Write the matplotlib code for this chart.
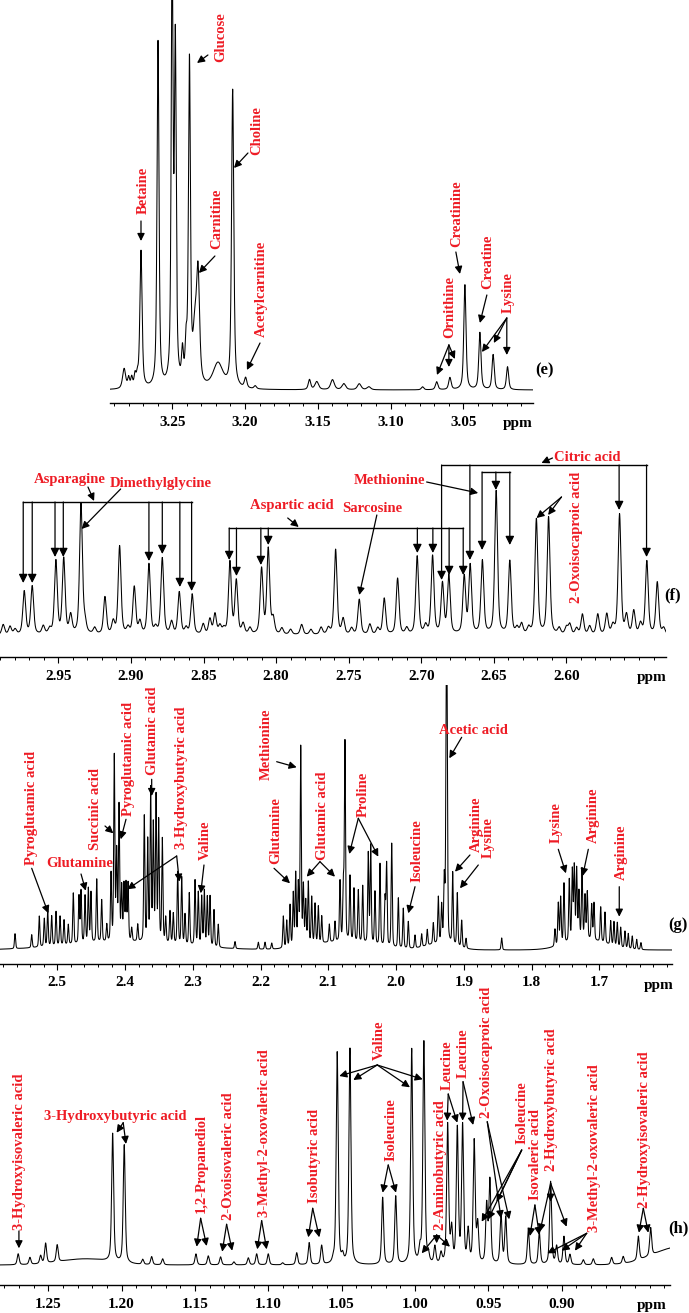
import numpy as np
import matplotlib
matplotlib.use("Agg")
import matplotlib.pyplot as plt
from matplotlib.ticker import FixedLocator, MultipleLocator

plt.rcParams['font.family'] = ['Liberation Serif', 'DejaVu Serif']
plt.rcParams['font.weight'] = 'bold'

RED = '#ee1c25'

# ---------------- panel (e) : 3.29 - 3.00 ppm ----------------
e_ppm = [3.2831, 3.2800, 3.2779, 3.2756, 3.2740, 3.2715, 3.2598, 3.2501, 3.2479,
         3.2430, 3.2405, 3.2382, 3.2345, 3.2323, 3.2186, 3.2085, 3.1996, 3.1930,
         3.1557, 3.1507, 3.1399, 3.1321, 3.1215, 3.1149, 3.0780, 3.0683, 3.0592,
         3.0489, 3.0386, 3.0295, 3.0196]
e_height = [20, 10, 10, 12, 10, 137, 346, 430, 334,
            30, 35, 323, 50, 108, 25, 298, 10, 3,
            10, 8, 10, 6, 6, 3, 3, 8, 12,
            105, 57, 35, 23]
e_width = [0.0025, 0.0015, 0.0015, 0.0015, 0.0015, 0.0018, 0.0016, 0.0015, 0.0015,
           0.0015, 0.0015, 0.0016, 0.003, 0.0025, 0.008, 0.0018, 0.002, 0.002,
           0.002, 0.003, 0.003, 0.003, 0.003, 0.003, 0.002, 0.002, 0.002,
           0.0018, 0.0018, 0.0018, 0.0018]
e_ticks = [3.25, 3.20, 3.15, 3.10, 3.05]
e_ticklabels = ['3.25', '3.20', '3.15', '3.10', '3.05']

e_names = ['Betaine', 'Glucose', 'Choline', 'Carnitine', 'Acetylcarnitine',
           'Creatinine', 'Ornithine', 'Creatine', 'Lysine']
e_text_xy = [(3.2701, 200), (3.2165, 353), (3.1918, 259), (3.2193, 171), (3.1890, 101),
             (3.0544, 176), (3.0592, 83), (3.0331, 128), (3.0194, 97)]
e_text_rot = [90, 90, 90, 90, 90, 90, 90, 90, 90]
e_arrow_from = [(3.2715, 169), (3.2255, 335), (3.1980, 237), (3.2207, 134), (3.1897, 47),
                (3.0551, 138), (3.0599, 45), (3.0338, 95), (3.0201, 72)]
e_arrow_to = [[(3.2715, 149)], [(3.2330, 327)], [(3.2076, 222)], [(3.2317, 117)],
              [(3.1987, 20)], [(3.0523, 116)],
              [(3.0681, 15), (3.0599, 23), (3.0558, 31)], [(3.0386, 67)],
              [(3.0372, 38), (3.0290, 47), (3.0201, 35)]]

# ---------------- panel (f) : 2.99 - 2.53 ppm ----------------
f_ppm = [2.9880, 2.9833, 2.9798, 2.9735, 2.9680, 2.9604, 2.9560, 2.9517, 2.9463, 2.9415,
         2.9344, 2.9317, 2.9250, 2.9179, 2.9122, 2.9078, 2.9020, 2.8977, 2.8938, 2.8876,
         2.8830, 2.8784, 2.8720, 2.8667, 2.8620, 2.8578, 2.8502, 2.8456, 2.8421, 2.8387,
         2.8360, 2.8318, 2.8274, 2.8227, 2.8180, 2.8100, 2.8054, 2.8020, 2.7960, 2.7900,
         2.7824, 2.7760, 2.7690, 2.7640, 2.7590, 2.7538, 2.7480, 2.7427, 2.7354, 2.7300,
         2.7255, 2.7163, 2.7100, 2.7028, 2.6970, 2.6922, 2.6854, 2.6810, 2.6704, 2.6663,
         2.6579, 2.6484, 2.6390, 2.6340, 2.6309, 2.6260, 2.6207, 2.6123, 2.6050, 2.6000,
         2.5977, 2.5930, 2.5890, 2.5840, 2.5784, 2.5722, 2.5680, 2.5634, 2.5586, 2.5536,
         2.5490, 2.5446, 2.5374, 2.5330]
f_height = [10, 8, 5, 43, 48, 8, 5, 73, 75, 18,
            130, 10, 6, 37, 12, 88, 6, 47, 12, 70,
            6, 76, 12, 42, 6, 40, 10, 15, 20, 8,
            5, 72, 53, 10, 6, 65, 85, 15, 6, 5,
            10, 5, 7, 6, 85, 15, 6, 35, 10, 6,
            36, 56, 6, 78, 8, 78, 50, 58, 57, 68,
            73, 143, 73, 6, 10, 6, 115, 117, 6, 7,
            10, 6, 20, 8, 20, 20, 8, 120, 18, 23,
            10, 73, 52, 6]
f_width = 0.0023
f_ticks = [2.95, 2.90, 2.85, 2.80, 2.75, 2.70, 2.65, 2.60]
f_ticklabels = ['2.95', '2.90', '2.85', '2.80', '2.75', '2.70', '2.65', '2.60']

f_names = ['Asparagine', 'Dimethylglycine', 'Aspartic acid', 'Sarcosine', 'Methionine',
           'Citric acid', '2-Oxoisocaproic acid']
f_text_xy = [(2.9420, 155), (2.8797, 151), (2.7895, 130), (2.7340, 126), (2.7217, 155),
             (2.5856, 177), (2.5932, 98)]
f_text_rot = [0, 0, 0, 0, 0, 0, 90]
f_arrow_from = [(2.9296, 148), (2.9071, 146), (2.7920, 117), (2.7306, 120), (2.6963, 153),
                (2.6096, 177), (2.6034, 138)]
f_arrow_to = [[(2.9254, 134)], [(2.9340, 106)], [(2.7844, 108)], [(2.7427, 40)],
              [(2.6608, 142)], [(2.6172, 172)], [(2.6206, 117), (2.6126, 120)]]
# brackets: level and (ppm, arrow tip) of every drop
f_bracket_level = [133, 107, 170, 163]
f_bracket_drops = [
    [(2.9742, 52), (2.9680, 52), (2.9523, 78), (2.9466, 78),
     (2.8876, 74), (2.8784, 81), (2.8663, 48), (2.8582, 44)],
    [(2.8323, 75), (2.8273, 59), (2.8105, 70), (2.8054, 90),
     (2.7027, 82), (2.6920, 82), (2.6808, 60), (2.6711, 60)],
    [(2.6860, 55), (2.6665, 75), (2.5637, 125), (2.5448, 78)],
    [(2.6581, 85), (2.6486, 145), (2.6390, 90)],
]

# ---------------- panel (g) : 2.58 - 1.59 ppm ----------------
g_ppm = [2.5624, 2.5378, 2.5266, 2.5192, 2.5142, 2.5083, 2.5019, 2.4960, 2.4901, 2.4838,
         2.4764, 2.4680, 2.4650, 2.4591, 2.4542, 2.4503, 2.4418, 2.4345, 2.4270, 2.4207,
         2.4159, 2.4124, 2.4089, 2.4050, 2.4016, 2.3986, 2.3956, 2.3902, 2.3813, 2.3716,
         2.3666, 2.3622, 2.3583, 2.3543, 2.3504, 2.3450, 2.3400, 2.3337, 2.3288, 2.3223,
         2.3164, 2.3115, 2.3052, 2.2967, 2.2919, 2.2869, 2.2830, 2.2786, 2.2746, 2.2687,
         2.2624, 2.2377, 2.2033, 2.1934, 2.1835, 2.1664, 2.1614, 2.1565, 2.1517, 2.1481,
         2.1443, 2.1407, 2.1368, 2.1333, 2.1295, 2.1245, 2.1196, 2.1147, 2.1097, 2.0985,
         2.0901, 2.0827, 2.0778, 2.0754, 2.0680, 2.0621, 2.0557, 2.0492, 2.0410, 2.0374,
         2.0311, 2.0237, 2.0163, 2.0139, 2.0064, 1.9966, 1.9893, 1.9819, 1.9720, 1.9622,
         1.9539, 1.9450, 1.9376, 1.9327, 1.9288, 1.9258, 1.9248, 1.9164, 1.9096, 1.9031,
         1.8967, 1.8441, 1.7654, 1.7605, 1.7570, 1.7521, 1.7443, 1.7398, 1.7369, 1.7334,
         1.7300, 1.7255, 1.7211, 1.7177, 1.7112, 1.7078, 1.6979, 1.6916, 1.6832, 1.6783,
         1.6734, 1.6684, 1.6621, 1.6572, 1.6513, 1.6448, 1.6385]
g_height = [15, 13, 31, 28, 37, 30, 34, 29, 25, 20,
            51, 47, 52, 47, 54, 50, 63, 42, 17, 67,
            184, 87, 134, 53, 55, 56, 57, 13, 17, 125,
            100, 151, 115, 144, 120, 103, 25, 32, 30, 72,
            67, 30, 52, 65, 53, 49, 55, 49, 50, 37,
            23, 7, 7, 7, 6, 32, 27, 42, 53, 72,
            60, 198, 58, 43, 62, 47, 40, 37, 27, 18,
            20, 60, 53, 198, 65, 53, 52, 57, 90, 98,
            53, 82, 47, 82, 104, 50, 40, 27, 13, 13,
            16, 21, 46, 37, 62, 198, 198, 72, 53, 27,
            10, 12, 17, 42, 47, 60, 62, 70, 73, 70,
            47, 70, 43, 47, 35, 37, 35, 31, 24, 24,
            24, 20, 17, 15, 13, 10, 7]
g_width = 0.0020
g_hump_ppm = [2.40, 2.08, 1.935, 1.72]
g_hump_height = [8, 8, 6, 10]
g_hump_width = [0.20, 0.10, 0.05, 0.07]
g_ticks = [2.5, 2.4, 2.3, 2.2, 2.1, 2.0, 1.9, 1.8, 1.7]
g_ticklabels = ['2.5', '2.4', '2.3', '2.2', '2.1', '2.0', '1.9', '1.8', '1.7']

g_names = ['Pyroglutamic acid', 'Glutamine', 'Succinic acid', 'Pyroglutamic acid',
           'Glutamic acid', '3-Hydroxybutyric acid', 'Valine', 'Methionine', 'Glutamine',
           'Glutamic acid', 'Proline', 'Isoleucine', 'Acetic acid', 'Arginine', 'Lysine',
           'Lysine', 'Arginine', 'Arginine']
g_text_xy = [(2.5378, 141.7), (2.4677, 86.7), (2.4433, 141.3), (2.3952, 191),
             (2.3598, 219.3), (2.3164, 172.7), (2.2810, 109.3), (2.1909, 206), (2.1772, 119.3),
             (2.1089, 134.3), (2.0484, 156), (1.9695, 99.3), (1.8860, 220), (1.8810, 126),
             (1.8638, 112.7), (1.7629, 127.7), (1.7089, 135), (1.6680, 97.7)]
g_text_rot = [90, 0, 90, 90, 90, 90, 90, 90, 90, 90, 90, 90, 0, 90, 90, 90, 90, 90]
g_arrow_from = [(2.5378, 81.7), (2.4650, 76), (2.4296, 124), (2.3986, 130.7),
                (2.3607, 170.7), (2.3238, 94), (2.2835, 85), (2.1762, 188.3), (2.1801, 81.7),
                (2.1123, 88.3), (2.0557, 131.7), (1.9720, 63.3), (1.9031, 212.7), (1.8909, 95),
                (1.8786, 85), (1.7605, 100.7), (1.7162, 100.7), (1.6705, 63.3)]
g_arrow_to = [[(2.5133, 36.7)], [(2.4581, 59.3)], [(2.4173, 116.7)], [(2.4064, 110.7)],
              [(2.3607, 154)], [(2.3967, 60.7), (2.3199, 68.3)], [(2.2883, 56.7)],
              [(2.1467, 182.7)], [(2.1565, 66.7)], [(2.1319, 73.3), (2.0901, 73.3)],
              [(2.0690, 96), (2.0262, 93.3)], [(1.9819, 36.7)], [(1.9214, 191.7)],
              [(1.9130, 78.3)], [(1.9056, 61.7)], [(1.7492, 76.7)], [(1.7245, 74)],
              [(1.6705, 33.3)]]

# ---------------- panel (h) : 1.28 - 0.83 ppm ----------------
h_ppm = [1.2705, 1.2625, 1.2552, 1.2518, 1.2439, 1.2061, 1.1982, 1.1856, 1.1795, 1.1720,
         1.1493, 1.1409, 1.1325, 1.1234, 1.1136, 1.1079, 1.1000, 1.0902, 1.0806, 1.0721,
         1.0636, 1.0557, 1.0530, 1.0493, 1.0443, 1.0220, 1.0131, 1.0022, 0.9966, 0.9939,
         0.9909, 0.9864, 0.9822, 0.9777, 0.9750, 0.9711, 0.9675, 0.9637, 0.9596, 0.9572,
         0.9511, 0.9489, 0.9413, 0.9381, 0.9227, 0.9152, 0.9075, 0.9034, 0.8984, 0.8943,
         0.8852, 0.8784, 0.8659, 0.8580, 0.8477, 0.8393]
h_height = [11, 7, 8, 20, 17, 128, 118, 5, 8, 6,
            11, 9, 8, 3, 7, 11, 11, 2, 12, 22,
            19, 3, 212, 7, 216, 67, 68, 215, 13, 222,
            8, 17, 10, 139, 33, 134, 137, 32, 122, 38,
            58, 83, 50, 47, 35, 32, 83, 18, 28, 10,
            5, 6, 7, 7, 24, 28]
h_width = 0.0016
h_hump_ppm = [1.225, 0.820]
h_hump_height = [6, 18]
h_hump_width = [0.04, 0.04]
h_ticks = [1.25, 1.20, 1.15, 1.10, 1.05, 1.00, 0.95, 0.90]
h_ticklabels = ['1.25', '1.20', '1.15', '1.10', '1.05', '1.00', '0.95', '0.90']

h_names = ['3-Hydroxyisovaleric acid', '3-Hydroxybutyric acid', '1,2-Propanediol',
           '2-Oxoisovaleric acid', '3-Methyl-2-oxovaleric acid', 'Isobutyric acid', 'Valine',
           'Isoleucine', '2-Aminobutyric acid', 'Leucine', 'Leucine', '2-Oxoisocaproic acid',
           'Isoleucine', 'Isovaleric acid', '2-Hydroxybutyric acid',
           '3-Methyl-2-oxovaleric acid', '2-Hydroxyisovaleric acid']
h_text_xy = [(1.2698, 113.3), (1.2045, 148.3), (1.1454, 101.7), (1.1273, 109.3),
             (1.1027, 131.7), (1.0688, 109.3), (1.0243, 224.3), (1.0166, 135), (0.9829, 100),
             (0.9780, 200), (0.9672, 212.3), (0.9511, 213), (0.9272, 152.7), (0.9175, 110),
             (0.9068, 165), (0.8779, 116.7), (0.8438, 135)]
h_text_rot = [90, 0, 90, 90, 90, 90, 90, 90, 90, 90, 90, 90, 90, 90, 90, 90, 90]
h_arrow_from = [(1.2700, 34), (1.1989, 142.3), (1.1461, 46.7), (1.1284, 40.7),
                (1.1045, 44.3), (1.0697, 56.7), (1.0257, 200), (1.0182, 100), (0.9852, 30),
                (0.9773, 171), (0.9672, 183.3), (0.9507, 143.3), (0.9272, 115), (0.9182, 60),
                (0.9075, 81.7), (0.8829, 31.7), (0.8443, 56.7)]
h_arrow_to = [[(1.2700, 16.7)], [(1.2034, 132.3), (1.1970, 121)],
              [(1.1488, 18.3), (1.1420, 19)], [(1.1314, 13.3), (1.1246, 14.3)],
              [(1.1075, 15.7), (1.1011, 15.7)], [(1.0727, 27.7), (1.0652, 27.7)],
              [(1.0516, 189), (1.0420, 185), (1.0034, 177.7), (0.9947, 185.7)],
              [(1.0220, 72.3), (1.0129, 72.3)],
              [(0.9954, 11.7), (0.9852, 21.7), (0.9761, 18.3)],
              [(0.9780, 144.3), (0.9711, 142.3)], [(0.9675, 144.3), (0.9603, 140)],
              [(0.9413, 46.7), (0.9357, 45.7)],
              [(0.9545, 43.3), (0.9500, 45.7), (0.9443, 63.3)],
              [(0.9216, 29), (0.9152, 30)],
              [(0.9148, 33.3), (0.9075, 63.3), (0.8966, 38.3)],
              [(0.9098, 11.7), (0.9000, 14.3), (0.8909, 14.3)],
              [(0.8473, 32.3), (0.8409, 32.3)]]


def lineshape(axis, centres, heights, widths, eta=0.5):
    y = np.zeros_like(axis)
    widths = np.broadcast_to(widths, np.shape(centres))
    for c, h, w in zip(centres, heights, widths):
        hw = w / 2.0
        lor = hw ** 2 / ((axis - c) ** 2 + hw ** 2)
        gau = np.exp(-np.log(2) * ((axis - c) / hw) ** 2)
        y += h * (eta * lor + (1 - eta) * gau)
    return y


W, H = 689, 1313
fig = plt.figure(figsize=(W / 100, H / 100), dpi=100)


def add_panel(left, right, axis_y, top):
    return fig.add_axes([left / W, 1 - axis_y / H, (right - left) / W, (axis_y - top) / H])


def style_axis(ax, xlim, ylim, ticks, labels, minor):
    ax.set_xlim(*xlim)
    ax.set_ylim(*ylim)
    for side in ['top', 'left', 'right']:
        ax.spines[side].set_visible(False)
    ax.spines['bottom'].set_linewidth(1.0)
    ax.set_yticks([])
    ax.xaxis.set_major_locator(FixedLocator(ticks))
    ax.set_xticklabels(labels)
    ax.xaxis.set_minor_locator(MultipleLocator(minor))
    ax.tick_params(axis='x', which='major', direction='out', length=4, width=0.8,
                   labelsize=11, pad=5)
    ax.tick_params(axis='x', which='minor', direction='out', length=2.5, width=0.7)
    ax.patch.set_alpha(0)


def arrow(ax, start, tip, size=11):
    ax.annotate('', xy=tip, xytext=start,
                arrowprops=dict(arrowstyle='-|>', color='black', lw=0.9,
                                mutation_scale=size, shrinkA=0, shrinkB=0))


def annotate_panel(ax, names, text_xy, rot, starts, tips):
    for name, (tx, ty), r, s, t in zip(names, text_xy, rot, starts, tips):
        ax.text(tx, ty, name, color=RED, fontsize=10.5, fontweight='bold',
                rotation=r, ha='center', va='center')
        for tip in t:
            arrow(ax, s, tip)


# (e)
ax_e = add_panel(110, 532.7, 403, 0)
style_axis(ax_e, (3.2928, 3.0023), (-13, 390), e_ticks, e_ticklabels, 0.01)
xe = np.linspace(3.2928, 3.0023, 9000)
ax_e.plot(xe, lineshape(xe, e_ppm, e_height, e_width, eta=0.6), color='black', lw=0.75)
annotate_panel(ax_e, e_names, e_text_xy, e_text_rot, e_arrow_from, e_arrow_to)
ax_e.text(3.0125, -33, 'ppm', fontsize=11, ha='center', va='center')
ax_e.text(2.994, 20, '(e)', fontsize=12, ha='center', va='center')

# (f)
ax_f = add_panel(0, 666, 657, 440)
style_axis(ax_f, (2.9902, 2.5314), (-22, 195), f_ticks, f_ticklabels, 0.01)
xf = np.linspace(2.9902, 2.5314, 9000)
ax_f.plot(xf, lineshape(xf, f_ppm, f_height, f_width), color='black', lw=0.75)
annotate_panel(ax_f, f_names, f_text_xy, f_text_rot, f_arrow_from, f_arrow_to)
for level, drops in zip(f_bracket_level, f_bracket_drops):
    xs = [d[0] for d in drops]
    ax_f.plot([max(xs), min(xs)], [level, level], color='black', lw=1.0)
    for px, tip in drops:
        arrow(ax_f, (px, level), (px, tip), size=13)
ax_f.text(2.5414, -42, 'ppm', fontsize=11, ha='center', va='center')
ax_f.text(2.5269, 40, '(f)', fontsize=12, ha='center', va='center')

# (g)
ax_g = add_panel(0, 671.7, 964, 685)
style_axis(ax_g, (2.5846, 1.5931), (-14, 265), g_ticks, g_ticklabels, 0.02)
xg = np.linspace(2.5846, 1.5931, 14000)
yg = lineshape(xg, g_ppm, g_height, g_width, eta=0.35) + \
    lineshape(xg, g_hump_ppm, g_hump_height, g_hump_width, eta=0.0)
ax_g.plot(xg, yg, color='black', lw=0.75)
annotate_panel(ax_g, g_names, g_text_xy, g_text_rot, g_arrow_from, g_arrow_to)
ax_g.text(1.6129, -35, 'ppm', fontsize=11, ha='center', va='center')
ax_g.text(1.5834, 25, '(g)', fontsize=12, ha='center', va='center')

# (h)
ax_h = add_panel(0, 670, 1285, 985)
style_axis(ax_h, (1.2829, 0.8261), (-20, 280), h_ticks, h_ticklabels, 0.01)
xh = np.linspace(1.2829, 0.8261, 9000)
yh = lineshape(xh, h_ppm, h_height, h_width, eta=0.5) + \
    lineshape(xh, h_hump_ppm, h_hump_height, h_hump_width, eta=0.0)
ax_h.plot(xh, yh, color='black', lw=0.75)
annotate_panel(ax_h, h_names, h_text_xy, h_text_rot, h_arrow_from, h_arrow_to)
ax_h.text(0.8386, -40, 'ppm', fontsize=11, ha='center', va='center')
ax_h.text(0.8205, 36.7, '(h)', fontsize=12, ha='center', va='center')

fig.savefig('out.png', dpi=100)
